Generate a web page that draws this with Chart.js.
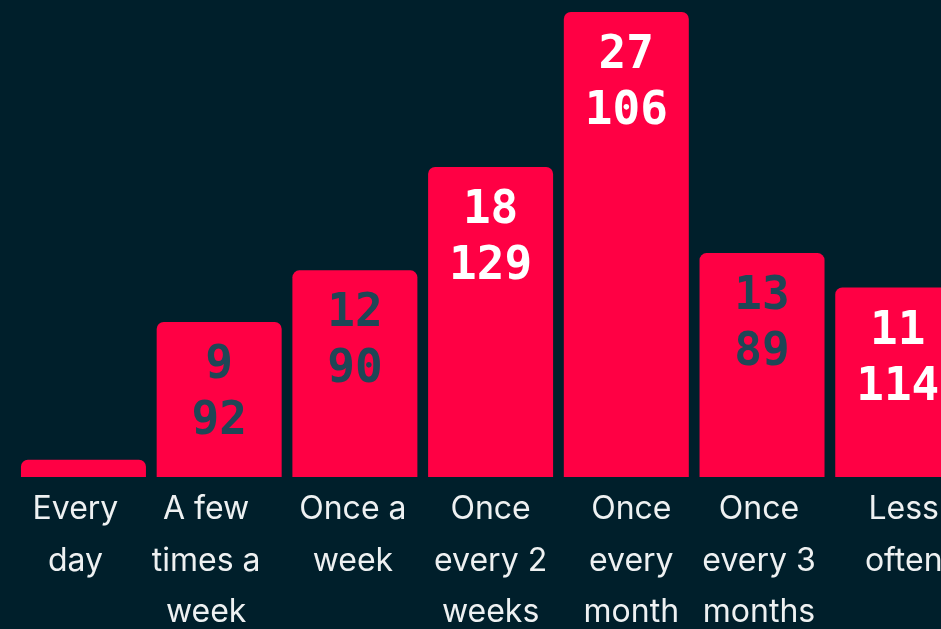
<!DOCTYPE html>
<html>
<head>
<meta charset="utf-8">
<script src="https://cdn.jsdelivr.net/npm/chart.js@4/dist/chart.umd.min.js"></script>
<style>
  html, body { margin: 0; padding: 0; background: #001f2b; overflow: hidden; }
  #wrap { width: 1000px; height: 629px; }
</style>
</head>
<body>
<div id="wrap"><canvas id="c" width="1000" height="629"></canvas></div>
<script>
// Frequency categories (multi-line labels)
const categories = [
  ["Every", "day"],
  ["A few", "times a", "week"],
  ["Once a", "week"],
  ["Once", "every 2", "weeks"],
  ["Once", "every", "month"],
  ["Once", "every 3", "months"],
  ["Less", "often"]
];
// Share of respondents (bar height)
const shares = [1, 9, 12, 18, 27, 13, 11];
// Respondent counts shown under the share
const counts = [null, 92, 90, 129, 106, 89, 114];

// Label text colour per bar
const labelColors = [null, "#1f4656", "#1f4656", "#ffffff", "#ffffff", "#1f4656", "#ffffff"];
// Horizontal nudge of each category caption (px)
const captionNudge = [-8, -13, -2, 0, 5, -3, 6];

const barLabels = {
  id: "barLabels",
  afterDatasetsDraw(chart) {
    const ctx = chart.ctx;
    const meta = chart.getDatasetMeta(0);
    ctx.save();
    ctx.font = "bold 46px 'DejaVu Sans Mono'";
    ctx.textAlign = "center";
    ctx.textBaseline = "alphabetic";
    meta.data.forEach((bar, i) => {
      if (counts[i] === null) return;
      ctx.fillStyle = labelColors[i];
      ctx.fillText(String(shares[i]), bar.x, bar.y + 56);
      ctx.fillText(String(counts[i]), bar.x, bar.y + 112);
    });
    ctx.restore();
  }
};

// Category captions under the bars
const captions = {
  id: "captions",
  afterDraw(chart) {
    const ctx = chart.ctx;
    const xs = chart.scales.x;
    const bottom = chart.chartArea.bottom;
    ctx.save();
    ctx.font = "400 32px Inter";
    ctx.fillStyle = "#eef1f2";
    ctx.textAlign = "center";
    ctx.textBaseline = "alphabetic";
    categories.forEach((lines, i) => {
      const x = xs.getPixelForValue(i) + captionNudge[i];
      lines.forEach((t, k) => ctx.fillText(t, x, bottom + 42 + k * 51.5));
    });
    ctx.restore();
  }
};

new Chart(document.getElementById("c"), {
  type: "bar",
  data: {
    labels: categories,
    datasets: [{
      data: shares,
      backgroundColor: "#ff0044",
      borderRadius: 7,
      borderSkipped: "start",
      categoryPercentage: 1,
      barPercentage: 0.921
    }]
  },
  options: {
    responsive: false,
    animation: false,
    layout: { padding: { top: 12, left: 15.6, right: 34.4, bottom: 152 } },
    plugins: { legend: { display: false }, tooltip: { enabled: false } },
    scales: {
      x: { display: false },
      y: { display: false, min: 0, max: 27 }
    }
  },
  plugins: [barLabels, captions]
});
</script>
</body>
</html>
